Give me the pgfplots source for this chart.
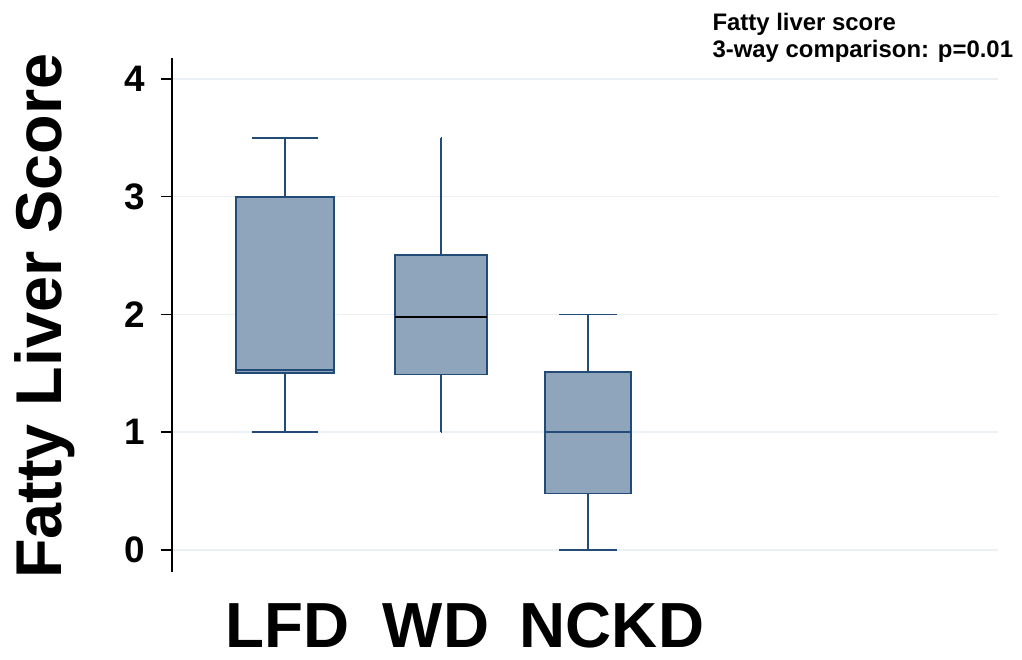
\documentclass[border=0pt]{standalone}
\usepackage{fontspec}
\setmainfont{Liberation Sans}
\usepackage{pgfplots}
\usepgfplotslibrary{statistics}
\pgfplotsset{compat=1.18}
\definecolor{boxfill}{HTML}{8EA5BB}
\definecolor{boxedge}{HTML}{234B78}
\definecolor{gridc}{HTML}{EAF0F3}
\begin{document}
\begin{tikzpicture}
\useasboundingbox (-172bp,-88bp) rectangle (850bp,572bp);
\begin{axis}[
  at={(0,0)}, anchor=south west, scale only axis,
  width=826bp, height=514bp,
  xmin=0, xmax=8.26, ymin=-0.187, ymax=4.178,
  axis x line*=bottom, axis y line*=left,
  x axis line style={draw=none},
  y axis line style={black, line width=1.5bp},
  ytick={0,1,2,3,4}, ytick pos=left, tick align=outside,
  major tick length=11bp,
  ytick style={black, line width=1.5bp},
  ymajorgrids, grid style={gridc, line width=1.5bp},
  xtick={1.155,2.64,4.40}, xticklabels={LFD,WD,NCKD},
  xtick style={draw=none},
  xticklabel style={font=\fontsize{64}{64}\selectfont\bfseries, anchor=base, yshift=-64bp},
  /pgf/number format/assume math mode=true,
  yticklabel style={font=\fontsize{37}{37}\selectfont\bfseries, xshift=-12bp},
  ylabel={Fatty Liver Score},
  ylabel style={font=\fontsize{65}{65}\selectfont\bfseries, at={(axis description cs:-0.1332,0.498)}, anchor=base},
  boxplot/draw direction=y,
  clip=false,
]
\addplot[boxplot prepared={draw position=1.13, lower whisker=1, lower quartile=1.5, median=1.53, upper quartile=3, upper whisker=3.5, box extend=0.98, whisker extend=0.65},
  fill=boxfill, draw=boxedge, line width=1.8bp] coordinates {};
\addplot[boxplot prepared={draw position=2.69, lower whisker=1, lower quartile=1.49, median=1.98, upper quartile=2.505, upper whisker=3.5, box extend=0.92, whisker extend=0.001, every median/.style={draw=black}},
  fill=boxfill, draw=boxedge, line width=1.8bp] coordinates {};
\addplot[boxplot prepared={draw position=4.16, lower whisker=0, lower quartile=0.48, median=1.0, upper quartile=1.51, upper whisker=2, box extend=0.86, whisker extend=0.58},
  fill=boxfill, draw=boxedge, line width=1.8bp] coordinates {};
\end{axis}
\node[anchor=base west, align=left, font=\fontsize{24}{28}\selectfont\bfseries] at (537bp,514bp) {Fatty liver score\\3-way comparison: p=0.01};
\end{tikzpicture}
\end{document}
